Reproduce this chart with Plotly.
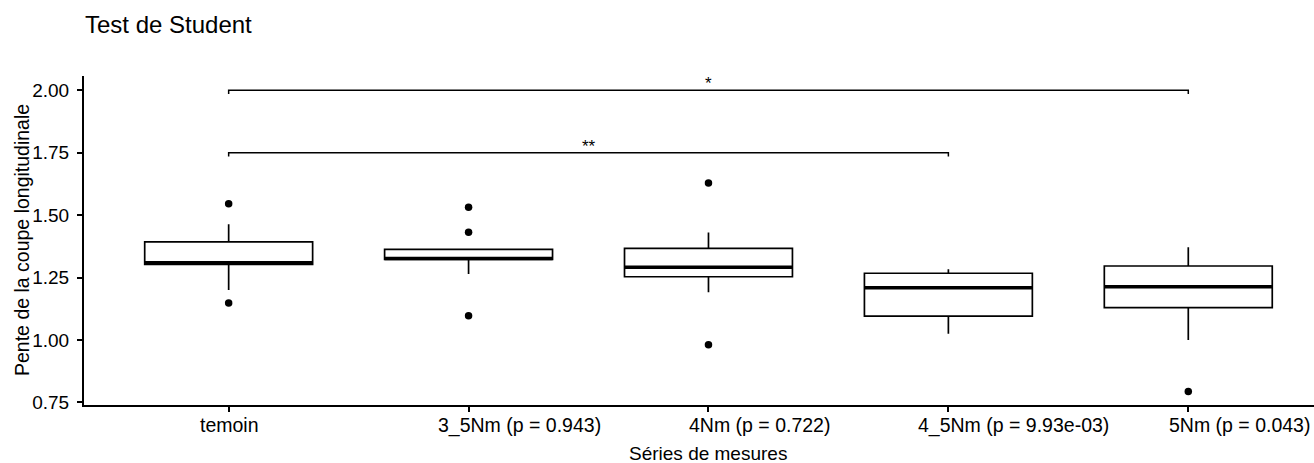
import plotly.graph_objects as go

# ---------------- data ----------------
categories = ["temoin", "3_5Nm", "4Nm", "4_5Nm", "5Nm"]
p_values = ["", "0.943", "0.722", "9.93e-03", "0.043"]

q1 = [1.302, 1.323, 1.253, 1.095, 1.129]
medians = [1.309, 1.326, 1.291, 1.209, 1.213]
q3 = [1.393, 1.363, 1.367, 1.267, 1.296]
lower_whisker = [1.200, 1.264, 1.191, 1.025, 1.000]
upper_whisker = [1.463, 1.363, 1.430, 1.283, 1.371]

outlier_cat = ["temoin", "temoin", "3_5Nm", "3_5Nm", "3_5Nm", "4Nm", "4Nm", "5Nm"]
outlier_val = [1.545, 1.148, 1.531, 1.431, 1.097, 1.629, 0.981, 0.793]

comp_from = ["temoin", "temoin"]
comp_to = ["5Nm", "4_5Nm"]
comp_y = [2.00, 1.75]
comp_label = ["*", "**"]

y_ticks = [0.75, 1.00, 1.25, 1.50, 1.75, 2.00]

# ---------------- styling ----------------
FONT = "Liberation Sans, Arial, Helvetica, sans-serif"
BOX_W = 0.70
TIP = 0.015
TICK_FS = 19.5

# Arial / Liberation Sans advance widths (per 1000 em) for the category names
ADV = {"t": 278, "e": 556, "m": 833, "o": 556, "i": 222, "n": 556,
       "_": 556, "N": 722, " ": 278}
for d in "0123456789":
    ADV[d] = 556


def text_width(s, size):
    return sum(ADV.get(ch, 556) for ch in s) / 1000.0 * size


pos = {c: i for i, c in enumerate(categories)}
xs = list(range(len(categories)))

fig = go.Figure()

fig.add_trace(go.Box(
    x=xs, q1=q1, median=medians, q3=q3,
    lowerfence=lower_whisker, upperfence=upper_whisker,
    orientation="v", width=BOX_W, whiskerwidth=0,
    fillcolor="white", line=dict(color="black", width=1.7),
    boxpoints=False, showlegend=False, hoverinfo="skip",
))

# thick median bars
mx, my = [], []
for i, m in enumerate(medians):
    mx += [i - BOX_W / 2, i + BOX_W / 2, None]
    my += [m, m, None]
fig.add_trace(go.Scatter(x=mx, y=my, mode="lines",
                         line=dict(color="black", width=3.6),
                         showlegend=False, hoverinfo="skip"))

# outliers
fig.add_trace(go.Scatter(x=[pos[c] for c in outlier_cat], y=outlier_val,
                         mode="markers", marker=dict(color="black", size=7.5),
                         showlegend=False, hoverinfo="skip"))

# comparison brackets
bx, by = [], []
for a, b, yv in zip(comp_from, comp_to, comp_y):
    xa, xb = pos[a], pos[b]
    bx += [xa, xa, xb, xb, None]
    by += [yv - TIP, yv, yv, yv - TIP, None]
fig.add_trace(go.Scatter(x=bx, y=by, mode="lines",
                         line=dict(color="black", width=1.5),
                         showlegend=False, hoverinfo="skip"))

annotations = []
for a, b, yv, lab in zip(comp_from, comp_to, comp_y, comp_label):
    annotations.append(dict(
        x=(pos[a] + pos[b]) / 2, y=yv, xref="x", yref="y",
        text=lab, showarrow=False, xanchor="center", yanchor="bottom",
        yshift=-5, font=dict(family=FONT, size=17, color="black")))

# category labels: name centred on its tick, p-value appended on the right
for c, p in zip(categories, p_values):
    label = c + ("\u00a0(p = " + p + ")" if p else "")
    annotations.append(dict(
        x=pos[c], y=0, xref="x", yref="paper", text=label,
        showarrow=False, xanchor="left", yanchor="top",
        xshift=-text_width(c, TICK_FS) / 2 - 1, yshift=-7,
        font=dict(family=FONT, size=TICK_FS, color="black")))

# axis titles
annotations.append(dict(
    x=2, y=-0.146, xref="x", yref="paper", text="Séries de mesures",
    showarrow=False, xanchor="center", yanchor="middle",
    font=dict(family=FONT, size=19, color="black")))
annotations.append(dict(
    x=0, y=0.5, xref="paper", yref="paper", text="Pente de la coupe longitudinale",
    showarrow=False, xanchor="center", yanchor="middle", textangle=-90,
    xshift=-62.5, font=dict(family=FONT, size=19.5, color="black")))

W, H = 1314, 463
L, T, B = 83.5, 76, 58

fig.update_layout(
    template="none",
    width=W, height=H,
    margin=dict(l=L, r=0, t=T, b=B, pad=0),
    paper_bgcolor="white", plot_bgcolor="white",
    font=dict(family=FONT, color="black"),
    title=dict(text="Test de Student", x=85 / W, xanchor="left", xref="container",
               y=1 - 25 / H, yanchor="middle", yref="container",
               font=dict(family=FONT, size=24, color="black")),
    showlegend=False,
    annotations=annotations,
    xaxis=dict(
        range=[-0.603, 4.524], tickmode="array", tickvals=xs, showticklabels=False,
        showgrid=False, zeroline=False, showline=True, linecolor="black", linewidth=2,
        ticks="outside", ticklen=5, tickwidth=1.5, tickcolor="black",
        automargin=False,
    ),
    yaxis=dict(
        range=[0.7392, 2.0573], tickmode="array", tickvals=y_ticks, tickformat=".2f",
        showgrid=False, zeroline=False, showline=True, linecolor="black", linewidth=2,
        ticks="outside", ticklen=5, tickwidth=1.5, tickcolor="black",
        ticklabelstandoff=4,
        tickfont=dict(family=FONT, size=19, color="black"), automargin=False,
    ),
)

fig.write_html(
    "out.html",
    config={"displayModeBar": False},
    post_script="document.body.style.margin='0';document.body.style.overflow='hidden';",
)
